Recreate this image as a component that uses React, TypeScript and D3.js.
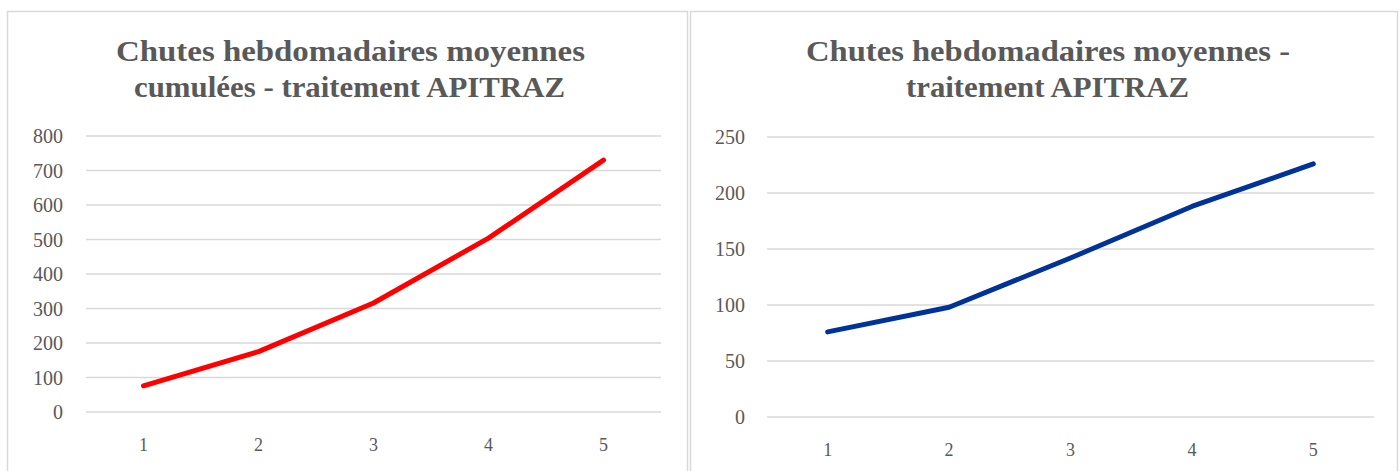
import React from "react";
import * as d3 from "d3";

const weeks = ["1", "2", "3", "4", "5"];
const cumulativeDrops = [76, 175, 316, 504, 730];
const weeklyDrops = [76, 98, 142, 188, 226];
const leftTicks = [0, 100, 200, 300, 400, 500, 600, 700, 800];
const rightTicks = [0, 50, 100, 150, 200, 250];
const leftTitle = ["Chutes hebdomadaires moyennes", "cumulées - traitement APITRAZ"];
const rightTitle = ["Chutes hebdomadaires moyennes -", "traitement APITRAZ"];

const FONT = "'Liberation Serif', 'DejaVu Serif', serif";
const TEXT = "#595959";
const GRID = "#d9d9d9";

type PanelProps = {
  x0: number; x1: number;
  plotL: number; plotR: number; plotT: number; plotB: number;
  labelX: number; xLabelY: number;
  max: number; ticks: number[]; values: number[]; color: string;
  title: string[]; titleX: number[]; titleW: number[];
};

function Panel(p: PanelProps) {
  const x = d3.scaleBand<string>().domain(weeks).range([p.plotL, p.plotR]);
  const y = d3.scaleLinear().domain([0, p.max]).range([p.plotB, p.plotT]);
  const line = d3
    .line<number>()
    .x((_, i) => (x(weeks[i]) as number) + x.bandwidth() / 2)
    .y((d) => y(d));
  return (
    <g>
      <rect x={p.x0 + 0.5} y={11.5} width={p.x1 - p.x0} height={480} fill="#fff" stroke={GRID} strokeWidth={1.5} />
      {p.title.map((t, i) => (
        <text key={i} x={p.titleX[i]} y={61 + i * 35.5} textLength={p.titleW[i]} lengthAdjust="spacingAndGlyphs"
          fontFamily={FONT} fontWeight="bold" fontSize={30} fill={TEXT}>
          {t}
        </text>
      ))}
      {p.ticks.map((t) => (
        <g key={t}>
          <line x1={p.plotL} x2={p.plotR} y1={y(t)} y2={y(t)} stroke={GRID} strokeWidth={1.5} />
          <text x={p.labelX} y={y(t)} dy="0.35em" textAnchor="end" fontFamily={FONT} fontSize={20} fill={TEXT}>
            {t}
          </text>
        </g>
      ))}
      {weeks.map((w) => (
        <text key={w} x={(x(w) as number) + x.bandwidth() / 2} y={p.xLabelY} dy="0.35em" textAnchor="middle" fontFamily={FONT} fontSize={18} fill={TEXT}>
          {w}
        </text>
      ))}
      <path d={line(p.values) || ""} fill="none" stroke={p.color} strokeWidth={5} strokeLinecap="round" strokeLinejoin="round" />
    </g>
  );
}

export default function App() {
  return (
    <svg width={1400} height={471} style={{ position: "absolute", left: 0, top: 0, background: "#fff" }}>
      <rect x={0} y={0} width={1400} height={471} fill="#fff" />
      <Panel
        x0={7} x1={687}
        plotL={86} plotR={661} plotT={136} plotB={412}
        labelX={63} xLabelY={445}
        max={800} ticks={leftTicks} values={cumulativeDrops} color="#ff0000"
        title={leftTitle} titleX={[116, 134]} titleW={[469, 431]}
      />
      <Panel
        x0={690} x1={1397}
        plotL={767} plotR={1374} plotT={137} plotB={417}
        labelX={745} xLabelY={450}
        max={250} ticks={rightTicks} values={weeklyDrops} color="#003399"
        title={rightTitle} titleX={[806, 906]} titleW={[484, 283]}
      />
    </svg>
  );
}
